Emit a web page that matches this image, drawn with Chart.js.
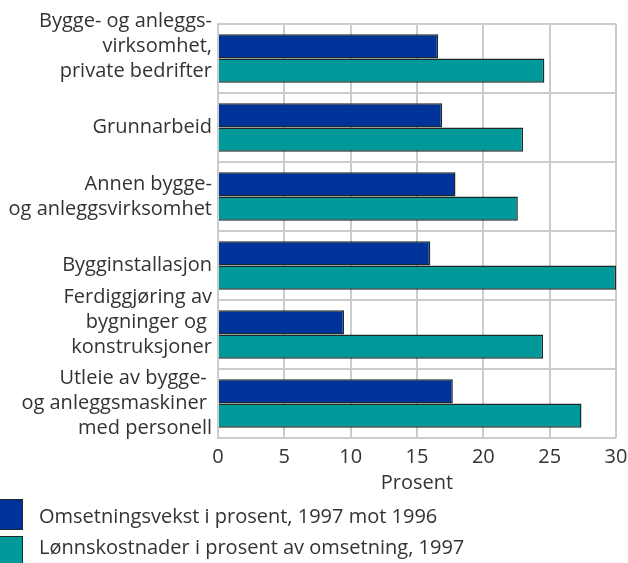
<!DOCTYPE html>
<html>
<head>
<meta charset="utf-8">
<script src="https://cdn.jsdelivr.net/npm/chart.js@4/dist/chart.umd.min.js"></script>
<style>
  body { margin: 0; background: #fff; font-family: "Open Sans", sans-serif; }
  #wrap { position: relative; width: 628px; height: 563px; overflow: hidden; }
  #chart { position: absolute; left: 0; top: 0; }
  .legend span.box { position: absolute; left: -2px; width: 25px; height: 31px; border: 1.5px solid #1a2a2a; box-sizing: border-box; }
  .legend span.txt { position: absolute; left: 39px; white-space: nowrap; font-size: 20px; line-height: 27px; color: #333; }
</style>
</head>
<body>
<div id="wrap">
  <canvas id="chart" width="628" height="500"></canvas>
  <div id="legend" class="legend"></div>
</div>
<script>
// ===== Data =====
// an empty last line lifts the label block half a line, like in the original
const categories = [
    ["Bygge- og anleggs-", "virksomhet,", "private bedrifter", ""],
    ["Grunnarbeid"],
    ["Annen bygge-", "og anleggsvirksomhet"],
    ["Bygginstallasjon"],
    ["Ferdiggjøring av", "bygninger og ", "konstruksjoner", ""],
    ["Utleie av bygge- ", "og anleggsmaskiner ", "med personell"]
];
const omsetningsvekst = [16.6, 16.9, 17.9, 16.0, 9.5, 17.7];
const lonnskostnader = [24.6, 23.0, 22.6, 30.0, 24.5, 27.4];
const seriesNames = [
    "Omsetningsvekst i prosent, 1997 mot 1996",
    "Lønnskostnader i prosent av omsetning, 1997"
];
const seriesColors = ["#003399", "#009999"];
const xTicks = [0, 5, 10, 15, 20, 25, 30];

const font = { family: "'Open Sans', sans-serif", size: 20, lineHeight: 1.25 };
const gridColor = "#cccccc";

const ctx = document.getElementById("chart").getContext("2d");
new Chart(ctx, {
    type: "bar",
    data: {
        labels: categories,
        datasets: [
            { label: seriesNames[0], data: omsetningsvekst, backgroundColor: seriesColors[0] },
            { label: seriesNames[1], data: lonnskostnader, backgroundColor: seriesColors[1] }
        ]
    },
    options: {
        indexAxis: "y",
        responsive: false,
        animation: false,
        layout: { padding: { top: 24, right: 12, left: 0, bottom: 0 } },
        datasets: {
            bar: {
                borderColor: "#1a2a2a",
                borderWidth: 1.5,
                categoryPercentage: 0.7,
                barPercentage: 1.0
            }
        },
        plugins: {
            legend: { display: false },
            tooltip: { enabled: false }
        },
        scales: {
            x: {
                min: 0,
                max: 30,
                afterBuildTicks: axis => { axis.ticks = xTicks.map(v => ({ value: v })); },
                afterFit: axis => {
                    axis.height = 62;
                    axis.paddingLeft = 0;
                    axis.paddingRight = 0;
                },
                grid: { color: gridColor, lineWidth: 2, drawTicks: false },
                border: { display: false },
                ticks: { font: font, color: "#333", padding: 7, maxRotation: 0, autoSkip: false },
                title: { display: true, text: "Prosent", font: font, color: "#333", padding: { top: 0, bottom: 4 } }
            },
            y: {
                afterFit: axis => {
                    axis.width = 218;
                    axis.paddingTop = 0;
                    axis.paddingBottom = 0;
                },
                grid: { color: gridColor, lineWidth: 2, drawTicks: false, offset: true },
                border: { color: gridColor, width: 2 },
                ticks: { font: font, color: "#333", padding: 6, autoSkip: false }
            }
        }
    }
});

// ===== Legend =====
const legend = document.getElementById("legend");
const boxTops = [499, 536];
const textTops = [502, 533];
seriesNames.forEach((name, i) => {
    legend.innerHTML +=
        `<span class="box" style="top:${boxTops[i]}px; background:${seriesColors[i]}"></span>` +
        `<span class="txt" style="top:${textTops[i]}px">${name}</span>`;
});
</script>
</body>
</html>
